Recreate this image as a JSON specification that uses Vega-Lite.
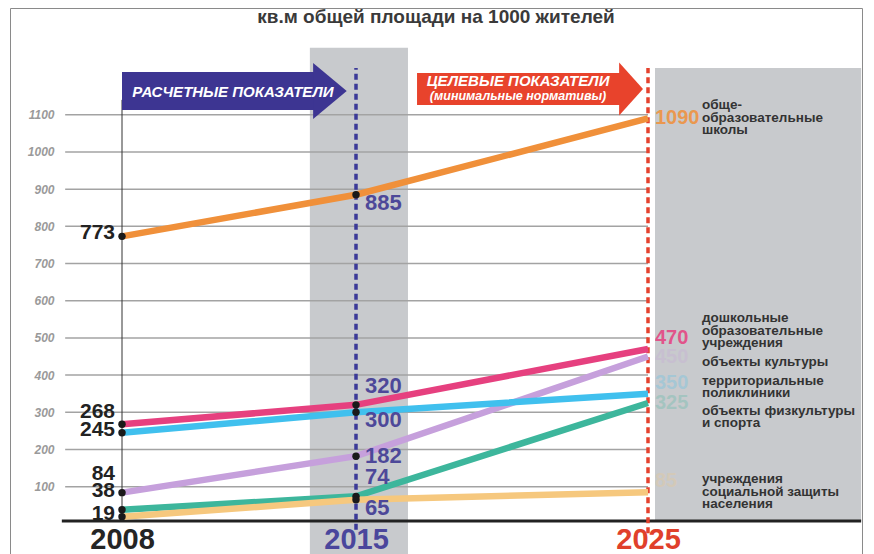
{
  "$schema": "https://vega.github.io/schema/vega-lite/v6.json",
  "width": 852,
  "height": 546,
  "autosize": "none",
  "padding": {"left": 10, "top": 8, "right": 12, "bottom": 0},
  "background": "white",
  "config": {"view": {"stroke": "#8a8a8a", "strokeWidth": 1}, "font": "Liberation Sans"},
  "title": {"text": "кв.м общей площади на 1000 жителей", "fontSize": 19, "fontWeight": "bold", "color": "#3a3a3a", "anchor": "middle", "offset": -19, "font": "Liberation Sans"},
  "data": {"values": [
    {"name": "обще-\nобразовательные\nшколы", "year": 2008, "value": 773},
    {"name": "обще-\nобразовательные\nшколы", "year": 2015, "value": 885},
    {"name": "обще-\nобразовательные\nшколы", "year": 2025, "value": 1090},
    {"name": "дошкольные\nобразовательные\nучреждения", "year": 2008, "value": 268},
    {"name": "дошкольные\nобразовательные\nучреждения", "year": 2015, "value": 320},
    {"name": "дошкольные\nобразовательные\nучреждения", "year": 2025, "value": 470},
    {"name": "объекты культуры", "year": 2008, "value": 84},
    {"name": "объекты культуры", "year": 2015, "value": 182},
    {"name": "объекты культуры", "year": 2025, "value": 450},
    {"name": "территориальные\nполиклиники", "year": 2008, "value": 245},
    {"name": "территориальные\nполиклиники", "year": 2015, "value": 300},
    {"name": "территориальные\nполиклиники", "year": 2025, "value": 350},
    {"name": "объекты физкультуры\nи спорта", "year": 2008, "value": 38},
    {"name": "объекты физкультуры\nи спорта", "year": 2015, "value": 74},
    {"name": "объекты физкультуры\nи спорта", "year": 2025, "value": 325},
    {"name": "учреждения\nсоциальной защиты\nнаселения", "year": 2008, "value": 19},
    {"name": "учреждения\nсоциальной защиты\nнаселения", "year": 2015, "value": 65},
    {"name": "учреждения\nсоциальной защиты\nнаселения", "year": 2025, "value": 85}
  ]},
  "layer": [
    {
      "data": {"values": [{}]},
      "mark": {"type": "rect", "color": "#c8cacd"},
      "encoding": {
        "x": {"datum": 2013.62, "type": "quantitative",
              "scale": {"type": "linear", "domain": [2008, 2015, 2025], "range": [112, 346, 638], "nice": false, "zero": false},
              "axis": {"values": [2008, 2015, 2025], "format": "d", "title": null, "domain": false, "ticks": false, "grid": false, "orient": "bottom", "offset": -31, "labelPadding": 2, "labelFontSize": 29, "labelFontWeight": "bold", "labelFont": "Liberation Sans", "labelOverlap": false, "labelFlush": false, "zindex": 1,
                       "labelColor": {"condition": [{"test": "datum.value == 2015", "value": "#4a469c"}, {"test": "datum.value == 2025", "value": "#e0402b"}], "value": "#252525"}}},
        "x2": {"datum": 2016.78},
        "y": {"datum": -81, "type": "quantitative",
              "scale": {"domain": [-81, 1387], "nice": false, "zero": false},
              "axis": {"values": [100, 200, 300, 400, 500, 600, 700, 800, 900, 1000, 1100], "format": "d", "title": null, "domain": false, "ticks": false, "grid": false, "offset": -46, "labelPadding": 2, "labelFontSize": 12, "labelFontStyle": "italic", "labelFontWeight": "bold", "labelColor": "#9a9a9a", "zindex": 1}},
        "y2": {"datum": 1280}
      }
    },
    {
      "data": {"values": [{"v": 100}, {"v": 200}, {"v": 300}, {"v": 400}, {"v": 500}, {"v": 600}, {"v": 700}, {"v": 800}, {"v": 900}, {"v": 1000}, {"v": 1100}]},
      "mark": {"type": "rule", "color": "#a3a3a3", "strokeWidth": 1.5},
      "encoding": {
        "x": {"datum": 2006.3, "type": "quantitative"},
        "x2": {"datum": 2025},
        "y": {"field": "v", "type": "quantitative"}
      }
    },
    {
      "data": {"values": [{}]},
      "mark": {"type": "rect", "color": "#c8cacd"},
      "encoding": {
        "x": {"datum": 2025.24, "type": "quantitative"},
        "x2": {"datum": 2032.3},
        "y": {"datum": 8, "type": "quantitative"},
        "y2": {"datum": 1226}
      }
    },
    {
      "data": {"values": [{}]},
      "mark": {"type": "rule", "color": "#222222", "strokeWidth": 3},
      "encoding": {
        "x": {"datum": 2006.2, "type": "quantitative"},
        "x2": {"datum": 2032.3},
        "y": {"datum": 8, "type": "quantitative"}
      }
    },
    {
      "data": {"values": [{}]},
      "mark": {"type": "rule", "color": "#333333", "strokeWidth": 1},
      "encoding": {
        "x": {"datum": 2008, "type": "quantitative"},
        "y": {"datum": 8, "type": "quantitative"},
        "y2": {"datum": 1140}
      }
    },
    {
      "data": {"values": [{}]},
      "mark": {"type": "rule", "color": "#3b3a98", "strokeWidth": 3.5, "strokeDash": [6, 4]},
      "encoding": {
        "x": {"datum": 2015, "type": "quantitative"},
        "y": {"datum": -16, "type": "quantitative"},
        "y2": {"datum": 1226}
      }
    },
    {
      "data": {"values": [{}]},
      "mark": {"type": "rule", "color": "#e4412e", "strokeWidth": 3.5, "strokeDash": [6, 4]},
      "encoding": {
        "x": {"datum": 2025, "type": "quantitative"},
        "y": {"datum": -25, "type": "quantitative"},
        "y2": {"datum": 1226}
      }
    },
    {
      "data": {"values": [{}]},
      "mark": {"type": "rect", "color": "#3d3592"},
      "encoding": {
        "x": {"datum": 2008, "type": "quantitative"},
        "x2": {"datum": 2013.77},
        "y": {"datum": 1113, "type": "quantitative"},
        "y2": {"datum": 1215}
      }
    },
    {
      "data": {"values": [{}]},
      "mark": {"type": "point", "shape": "M-0.6,-1L0.6,0L-0.6,1Z", "size": 3136, "filled": true, "opacity": 1, "color": "#3d3592"},
      "encoding": {
        "x": {"datum": 2014.22, "type": "quantitative"},
        "y": {"datum": 1164, "type": "quantitative"}
      }
    },
    {
      "data": {"values": [{}]},
      "mark": {"type": "rect", "color": "#e8432c"},
      "encoding": {
        "x": {"datum": 2017.09, "type": "quantitative"},
        "x2": {"datum": 2024.04},
        "y": {"datum": 1126, "type": "quantitative"},
        "y2": {"datum": 1212}
      }
    },
    {
      "data": {"values": [{}]},
      "mark": {"type": "point", "shape": "M-0.45,-1L0.45,0L-0.45,1Z", "size": 2809, "filled": true, "opacity": 1, "color": "#e8432c"},
      "encoding": {
        "x": {"datum": 2024.42, "type": "quantitative"},
        "y": {"datum": 1169, "type": "quantitative"}
      }
    },
    {
      "data": {"values": [{}]},
      "mark": {"type": "text", "text": "РАСЧЕТНЫЕ  ПОКАЗАТЕЛИ", "fontSize": 15, "fontWeight": "bold", "fontStyle": "italic", "color": "white", "align": "center", "baseline": "middle"},
      "encoding": {
        "x": {"datum": 2011.32, "type": "quantitative"},
        "y": {"datum": 1161, "type": "quantitative"}
      }
    },
    {
      "data": {"values": [{}]},
      "mark": {"type": "text", "text": "ЦЕЛЕВЫЕ  ПОКАЗАТЕЛИ", "fontSize": 15, "fontWeight": "bold", "fontStyle": "italic", "color": "white", "align": "center", "baseline": "middle"},
      "encoding": {
        "x": {"datum": 2020.55, "type": "quantitative"},
        "y": {"datum": 1190, "type": "quantitative"}
      }
    },
    {
      "data": {"values": [{}]},
      "mark": {"type": "text", "text": "(минимальные  нормативы)", "fontSize": 12.5, "fontWeight": "bold", "fontStyle": "italic", "color": "white", "align": "center", "baseline": "middle"},
      "encoding": {
        "x": {"datum": 2020.55, "type": "quantitative"},
        "y": {"datum": 1150, "type": "quantitative"}
      }
    },
    {
      "mark": {"type": "line", "strokeWidth": 6.5},
      "encoding": {
        "x": {"field": "year", "type": "quantitative"},
        "y": {"field": "value", "type": "quantitative"},
        "color": {"field": "name", "type": "nominal", "legend": null,
                  "scale": {"domain": ["обще-\nобразовательные\nшколы", "дошкольные\nобразовательные\nучреждения", "объекты культуры", "территориальные\nполиклиники", "объекты физкультуры\nи спорта", "учреждения\nсоциальной защиты\nнаселения"],
                            "range": ["#f0903a", "#e6407f", "#c6a0dc", "#40c0ee", "#3db69c", "#f6c87e"]}}
      }
    },
    {
      "transform": [{"filter": "datum.year != 2025"}],
      "mark": {"type": "circle", "color": "#1a1a1a", "size": 55, "opacity": 1},
      "encoding": {
        "x": {"field": "year", "type": "quantitative"},
        "y": {"field": "value", "type": "quantitative"}
      }
    },
    {
      "transform": [{"filter": "datum.year == 2008 && (datum.value == 773 || datum.value == 245 || datum.value == 19)"}],
      "mark": {"type": "text", "align": "right", "baseline": "middle", "dx": -7, "dy": -3, "fontSize": 21, "fontWeight": "bold", "color": "#222222"},
      "encoding": {
        "x": {"field": "year", "type": "quantitative"},
        "y": {"field": "value", "type": "quantitative"},
        "text": {"field": "value"}
      }
    },
    {
      "transform": [{"filter": "datum.year == 2008 && datum.value == 268"}],
      "mark": {"type": "text", "align": "right", "baseline": "middle", "dx": -7, "dy": -12, "fontSize": 21, "fontWeight": "bold", "color": "#222222"},
      "encoding": {
        "x": {"field": "year", "type": "quantitative"},
        "y": {"field": "value", "type": "quantitative"},
        "text": {"field": "value"}
      }
    },
    {
      "transform": [{"filter": "datum.year == 2008 && (datum.value == 84 || datum.value == 38)"}],
      "mark": {"type": "text", "align": "right", "baseline": "middle", "dx": -7, "dy": -19, "fontSize": 21, "fontWeight": "bold", "color": "#222222"},
      "encoding": {
        "x": {"field": "year", "type": "quantitative"},
        "y": {"field": "value", "type": "quantitative"},
        "text": {"field": "value"}
      }
    },
    {
      "transform": [{"filter": "datum.year == 2015 && datum.value == 182"}],
      "mark": {"type": "text", "align": "left", "baseline": "middle", "dx": 9, "fontSize": 22, "fontWeight": "bold", "color": "#4d4899"},
      "encoding": {
        "x": {"field": "year", "type": "quantitative"},
        "y": {"field": "value", "type": "quantitative"},
        "text": {"field": "value"}
      }
    },
    {
      "transform": [{"filter": "datum.year == 2015 && (datum.value == 885 || datum.value == 65 || datum.value == 300)"}],
      "mark": {"type": "text", "align": "left", "baseline": "middle", "dx": 9, "dy": 8, "fontSize": 22, "fontWeight": "bold", "color": "#4d4899"},
      "encoding": {
        "x": {"field": "year", "type": "quantitative"},
        "y": {"field": "value", "type": "quantitative"},
        "text": {"field": "value"}
      }
    },
    {
      "transform": [{"filter": "datum.year == 2015 && (datum.value == 320 || datum.value == 74)"}],
      "mark": {"type": "text", "align": "left", "baseline": "middle", "dx": 9, "dy": -19, "fontSize": 22, "fontWeight": "bold", "color": "#4d4899"},
      "encoding": {
        "x": {"field": "year", "type": "quantitative"},
        "y": {"field": "value", "type": "quantitative"},
        "text": {"field": "value"}
      }
    },
    {
      "transform": [{"filter": "datum.year == 2025 && (datum.value == 1090 || datum.value == 450 || datum.value == 325)"}],
      "mark": {"type": "text", "align": "left", "baseline": "middle", "dx": 7, "fontSize": 20, "fontWeight": "bold"},
      "encoding": {
        "x": {"field": "year", "type": "quantitative"},
        "y": {"field": "value", "type": "quantitative"},
        "text": {"field": "value"},
        "color": {"field": "name", "type": "nominal", "legend": null},
        "opacity": {"condition": {"test": "datum.value >= 470", "value": 0.85}, "value": 0.25}
      }
    },
    {
      "transform": [{"filter": "datum.year == 2025 && (datum.value == 470 || datum.value == 350 || datum.value == 85)"}],
      "mark": {"type": "text", "align": "left", "baseline": "middle", "dx": 7, "dy": -11, "fontSize": 20, "fontWeight": "bold"},
      "encoding": {
        "x": {"field": "year", "type": "quantitative"},
        "y": {"field": "value", "type": "quantitative"},
        "text": {"field": "value"},
        "color": {"field": "name", "type": "nominal", "legend": null},
        "opacity": {"condition": {"test": "datum.value >= 470", "value": 0.85}, "value": 0.25}
      }
    },
    {
      "transform": [{"filter": "datum.year == 2025 && (datum.value == 1090 || datum.value == 85 || datum.value == 350)"}],
      "mark": {"type": "text", "align": "left", "baseline": "middle", "dx": 54, "dy": -13, "fontSize": 13.5, "fontWeight": "bold", "color": "#333333", "lineBreak": "\n", "lineHeight": 12.5},
      "encoding": {
        "x": {"field": "year", "type": "quantitative"},
        "y": {"field": "value", "type": "quantitative"},
        "text": {"field": "name"}
      }
    },
    {
      "transform": [{"filter": "datum.year == 2025 && datum.value == 470"}],
      "mark": {"type": "text", "align": "left", "baseline": "middle", "dx": 54, "dy": -31, "fontSize": 13.5, "fontWeight": "bold", "color": "#333333", "lineBreak": "\n", "lineHeight": 12.5},
      "encoding": {
        "x": {"field": "year", "type": "quantitative"},
        "y": {"field": "value", "type": "quantitative"},
        "text": {"field": "name"}
      }
    },
    {
      "transform": [{"filter": "datum.year == 2025 && datum.value == 450"}],
      "mark": {"type": "text", "align": "left", "baseline": "middle", "dx": 54, "dy": 5, "fontSize": 13.5, "fontWeight": "bold", "color": "#333333", "lineBreak": "\n", "lineHeight": 12.5},
      "encoding": {
        "x": {"field": "year", "type": "quantitative"},
        "y": {"field": "value", "type": "quantitative"},
        "text": {"field": "name"}
      }
    },
    {
      "transform": [{"filter": "datum.year == 2025 && datum.value == 325"}],
      "mark": {"type": "text", "align": "left", "baseline": "middle", "dx": 54, "dy": 8, "fontSize": 13.5, "fontWeight": "bold", "color": "#333333", "lineBreak": "\n", "lineHeight": 12.5},
      "encoding": {
        "x": {"field": "year", "type": "quantitative"},
        "y": {"field": "value", "type": "quantitative"},
        "text": {"field": "name"}
      }
    }
  ]
}
